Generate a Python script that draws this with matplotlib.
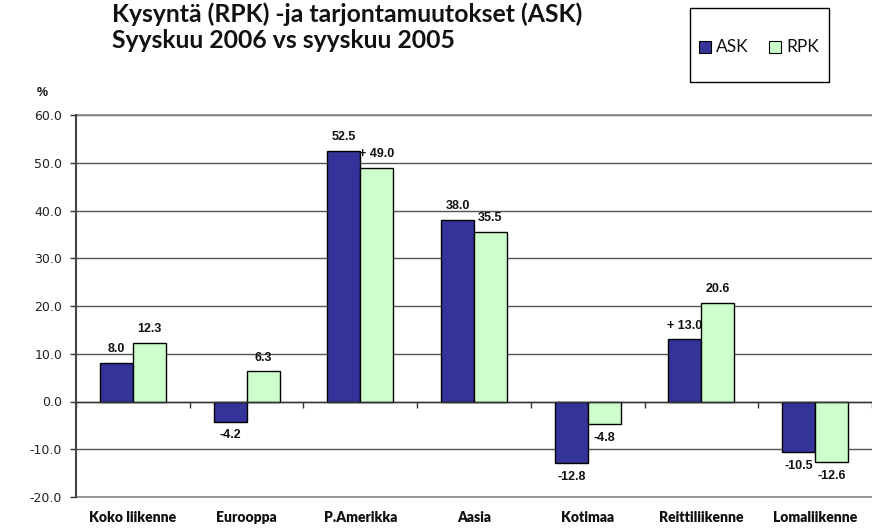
import matplotlib
matplotlib.use("Agg")
import matplotlib.pyplot as plt
from matplotlib.patches import Rectangle
import numpy as np

categories = ["Koko liikenne", "Eurooppa", "P.Amerikka", "Aasia", "Kotimaa", "Reittiliikenne", "Lomaliikenne"]
ask = [8.0, -4.2, 52.5, 38.0, -12.8, 13.0, -10.5]
rpk = [12.3, 6.3, 49.0, 35.5, -4.8, 20.6, -12.6]
ask_labels = ["8.0", "-4.2", "52.5", "38.0", "-12.8", "+ 13.0", "-10.5"]
rpk_labels = ["12.3", "6.3", "+ 49.0", "35.5", "-4.8", "20.6", "-12.6"]
yticks = [-20, -10, 0, 10, 20, 30, 40, 50, 60]

ASK_C = "#333399"
RPK_C = "#CCFFCC"

fig = plt.figure(figsize=(8.72, 5.28), dpi=100)
ax = fig.add_axes([76/872, 1-497/528, 1-76/872, (497-115)/528])

x = np.arange(len(categories))
w = 0.29
b1 = ax.bar(x - w/2, ask, w, color=ASK_C, edgecolor="black", linewidth=1, zorder=3)
b2 = ax.bar(x + w/2, rpk, w, color=RPK_C, edgecolor="black", linewidth=1, zorder=3)

lab_font = dict(family="Liberation Sans", fontweight="bold", fontsize=9, color="#111111")
for bars, labels in ((b1, ask_labels), (b2, rpk_labels)):
    for rect, lab in zip(bars, labels):
        h = rect.get_height()
        cx = rect.get_x() + rect.get_width()/2
        off = 10 if h >= 0 else -10
        ax.annotate(lab, (cx, h), xytext=(0, off), textcoords="offset points",
                    ha="center", va="center", zorder=5, **lab_font)

ax.set_xlim(-0.5, len(categories) - 0.5)
ax.set_ylim(-20, 60)
ax.set_yticks(yticks)
ax.set_yticklabels([f"{v:.1f}" for v in yticks], family="DejaVu Sans", fontsize=9, color="#222222")
ax.tick_params(axis="y", direction="out", length=4, width=1, color="#333333", pad=6)
ax.yaxis.grid(True, color="#555555", linewidth=1, zorder=0)
ax.set_axisbelow(True)

for s in ("top", "right"):
    ax.spines[s].set_visible(False)
ax.spines["left"].set_color("#444444")
ax.spines["left"].set_linewidth(1.5)
ax.spines["bottom"].set_position(("data", 0))
ax.spines["bottom"].set_color("#333333")
ax.spines["bottom"].set_linewidth(1)
ax.spines["bottom"].set_zorder(4)
ax.set_xticks(np.arange(len(categories) + 1) - 0.5)
ax.set_xticklabels([])
ax.tick_params(axis="x", direction="out", length=4, width=1, color="#333333")

ax.axhline(-20, color="#888888", linewidth=1.2, zorder=1, clip_on=False)
ax.axhline(60, color="#888888", linewidth=1.2, zorder=1, clip_on=False)

sec = ax.secondary_xaxis(0)
sec.set_xticks(x)
sec.set_xticklabels(categories, family="Lato", fontweight="heavy", fontsize=10, color="#111111")
sec.tick_params(length=0, pad=10)
for s in sec.spines.values():
    s.set_visible(False)

fig.text(112/872, 1-22/528, "Kysyntä (RPK) -ja tarjontamuutokset (ASK)", family="Lato",
         fontweight="bold", fontsize=17.8, ha="left", va="baseline", color="#111111")
fig.text(112/872, 1-48/528, "Syyskuu 2006 vs syyskuu 2005", family="Lato",
         fontweight="bold", fontsize=17.8, ha="left", va="baseline", color="#111111")

fig.text(42/872, 1-93/528, "%", family="Liberation Sans", fontweight="bold", fontsize=9,
         ha="center", va="center", color="#111111")

# legend box
fig.patches.append(Rectangle((690/872, 1-82/528), 139/872, 74/528, transform=fig.transFigure,
                             facecolor="white", edgecolor="black", linewidth=1))
fig.patches.append(Rectangle((699/872, 1-53/528), 12/872, 12/528, transform=fig.transFigure,
                             facecolor=ASK_C, edgecolor="black", linewidth=0.8))
fig.text(716/872, 1-47/528, "ASK", family="Lato", fontsize=12.5, ha="left", va="center", color="#111111")
fig.patches.append(Rectangle((769/872, 1-53/528), 12/872, 12/528, transform=fig.transFigure,
                             facecolor=RPK_C, edgecolor="black", linewidth=0.8))
fig.text(786/872, 1-47/528, "RPK", family="Lato", fontsize=12.5, ha="left", va="center", color="#111111")

fig.savefig("out.png", dpi=100)
